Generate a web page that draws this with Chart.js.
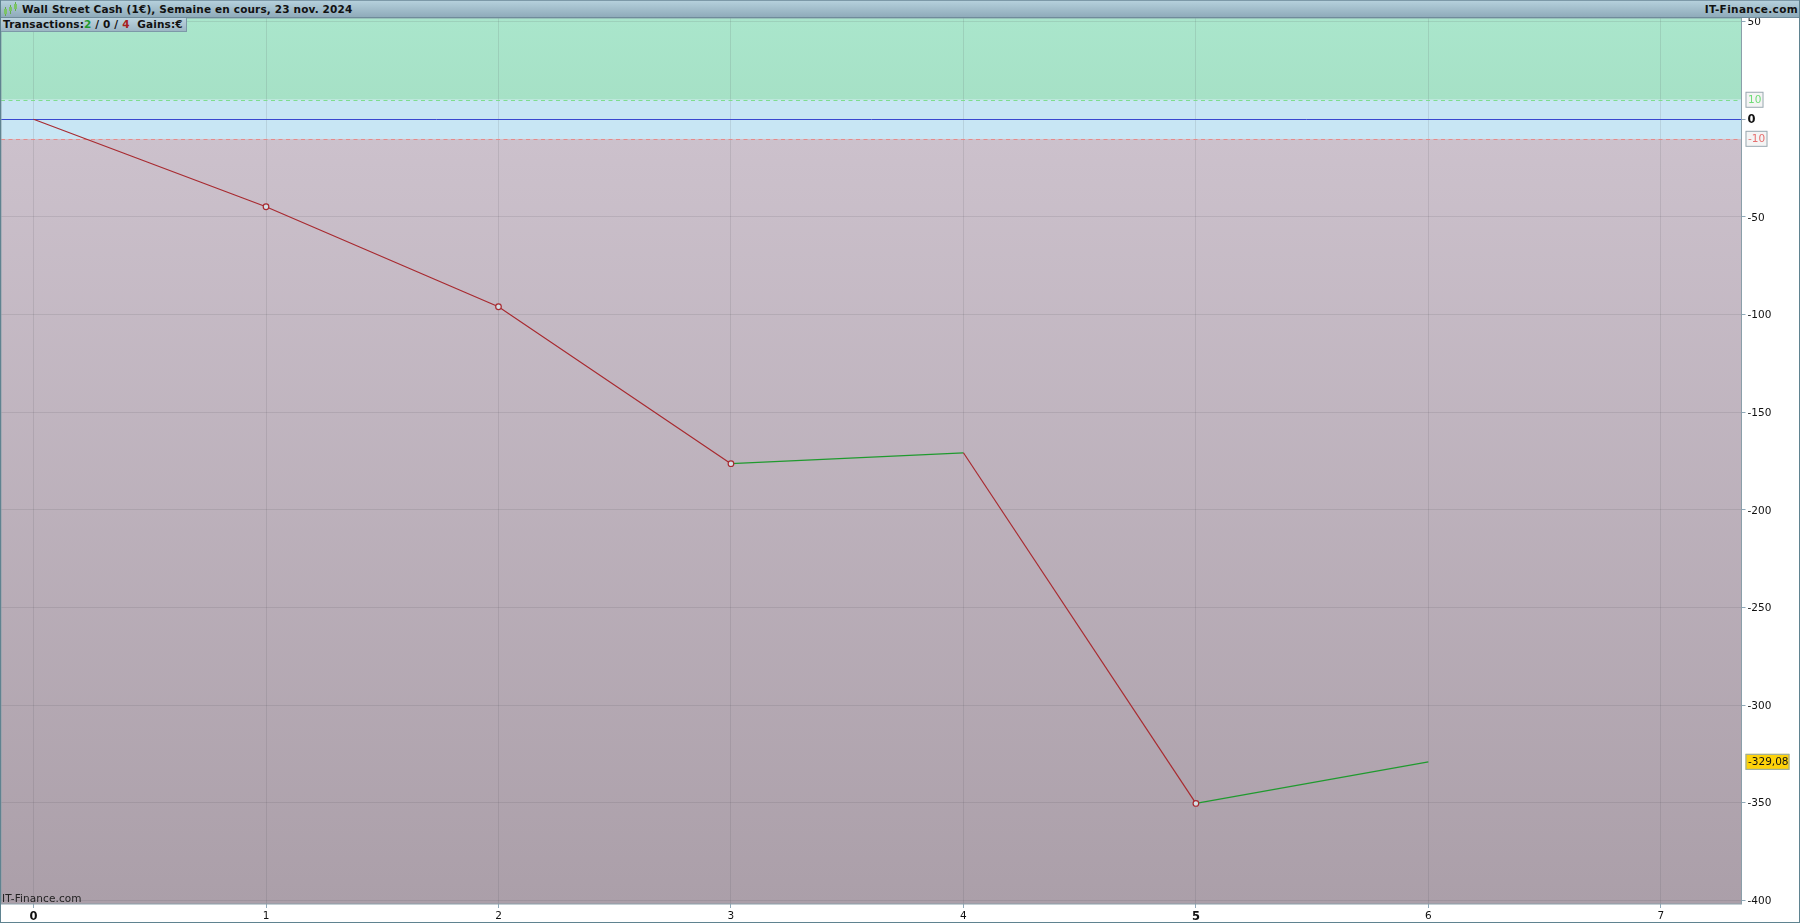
<!DOCTYPE html>
<html lang="fr">
<head>
<meta charset="utf-8">
<title>Wall Street Cash (1€)</title>
<script src="https://cdn.jsdelivr.net/npm/chart.js@4/dist/chart.umd.min.js"></script>
<style>
  html, body { margin: 0; background: #fff; overflow: hidden; }
  #page { position: relative; width: 1800px; height: 923px; font-family: "DejaVu Sans", sans-serif; }
  #graphique { position: absolute; left: 0; top: 0; }
  #cadre { position: absolute; inset: 0; border: 1px solid #5f8390; border-top: 0; pointer-events: none; }
  #entete {
    position: absolute; left: 0; top: 0; width: 1800px; height: 18px; box-sizing: border-box;
    background: linear-gradient(#b5d0dc, #8fabba); border-top: 1px solid #7d99a8; border-bottom: 1px solid #6f8b9a;
    font-size: 10.5px; font-weight: bold; color: #111; line-height: 15px; letter-spacing: .15px; white-space: nowrap;
  }
  #titre { position: absolute; left: 22px; top: 1px; }
  #site { position: absolute; right: 2px; top: 1px; letter-spacing: .35px; }
  #icone { position: absolute; left: 3px; top: 1px; }
  #resume {
    position: absolute; left: 0; top: 18px; height: 14px; width: 187px; box-sizing: border-box;
    background: linear-gradient(#bcd4df, #9db6c4); border: 1px solid #7d99a8; border-left: 0; border-top: 0;
    font-size: 10.5px; font-weight: bold; color: #111; line-height: 13px; padding-left: 3px; letter-spacing: .15px; white-space: nowrap;
  }
  #resume .g { color: #1f9a2e; } #resume .p { color: #a82020; }
  #credit { position: absolute; left: 2px; top: 892px; font-size: 10.5px; color: #222; letter-spacing: .1px; }
</style>
</head>
<body>
<div id="page">
  <canvas id="graphique" width="1800" height="923"></canvas>
  <div id="entete">
    <svg id="icone" width="16" height="15" viewBox="0 0 16 15" stroke="#62b04a" stroke-width="1">
      <path d="M2.5 5v9M7.5 3v9M12.5 0v9"/>
      <path d="M1 7h3v5H1zM6 5h3v4H6zM11 2h3v5h-3z" fill="#7cc466" stroke="none"/>
    </svg>
    <span id="titre">Wall Street Cash (1€), Semaine en cours, 23 nov. 2024</span>
    <span id="site">IT-Finance.com</span>
  </div>
  <div id="resume">Transactions:<span class="g">2</span> / 0 / <span class="p">4</span>&nbsp; Gains:€</div>
  <div id="credit">IT-Finance.com</div>
  <div id="cadre"></div>
</div>
<script>
// Données
const TRANSACTIONS = [0, 1, 2, 3, 4, 5, 6];
const GAINS = [0, -44.8, -96, -176.4, -170.8, -350.4, -329.08];
const TICKS_X = [0, 1, 2, 3, 4, 5, 6, 7];
const TICKS_Y = [50, 0, -50, -100, -150, -200, -250, -300, -350, -400];
const TICKS_X_GRAS = [0, 5];
const SEUIL_HAUT = 10;
const SEUIL_BAS = -10;
const DERNIER_GAIN = -329.08;
const DERNIER_GAIN_TEXTE = '-329,08';

const VERT = '#1f9a2e';
const ROUGE = '#a82a30';
const GRILLE = 'rgba(70,70,80,.13)';
const POLICE = '"DejaVu Sans", sans-serif';

// Bandes de fond : vert au-dessus du seuil, bleu autour de zéro, dégradé en dessous
const fondZones = {
  id: 'fondZones',
  beforeDraw(chart) {
    const { ctx, chartArea: a, scales: { y } } = chart;
    const yHaut = y.getPixelForValue(SEUIL_HAUT);
    const yBas = y.getPixelForValue(SEUIL_BAS);
    ctx.save();
    let g = ctx.createLinearGradient(0, a.top, 0, yHaut);
    g.addColorStop(0, '#aae6cc');
    g.addColorStop(1, '#a6e1c6');
    ctx.fillStyle = g;
    ctx.fillRect(a.left, a.top, a.width, yHaut - a.top);
    ctx.fillStyle = '#c8e6f4';
    ctx.fillRect(a.left, yHaut, a.width, yBas - yHaut);
    g = ctx.createLinearGradient(0, yBas, 0, a.bottom);
    g.addColorStop(0, '#ccc1cc');
    g.addColorStop(1, '#ab9fa9');
    ctx.fillStyle = g;
    ctx.fillRect(a.left, yBas, a.width, a.bottom - yBas);
    ctx.restore();
  },
  beforeDatasetsDraw(chart) {
    const { ctx, chartArea: a, scales: { y } } = chart;
    ctx.save();
    ctx.lineWidth = 1;
    ctx.setLineDash([4, 3.5]);
    [[SEUIL_HAUT, '#7fdc8f'], [SEUIL_BAS, '#e58a8a']].forEach(([v, c]) => {
      const py = Math.round(y.getPixelForValue(v)) + .5;
      ctx.strokeStyle = c;
      ctx.beginPath();
      ctx.moveTo(a.left, py);
      ctx.lineTo(a.right, py);
      ctx.stroke();
    });
    ctx.restore();
    ctx.save();
    ctx.strokeStyle = '#8a9fa9';
    ctx.lineWidth = 1;
    ctx.strokeRect(a.left, a.top, a.width, a.bottom - a.top);
    ctx.restore();
  }
};

function etiquette(ctx, texte, x, py, largeur, fond, bord, couleur) {
  ctx.fillStyle = fond;
  ctx.fillRect(x, py - 8, largeur, 16);
  ctx.strokeStyle = bord;
  ctx.lineWidth = 1;
  ctx.strokeRect(x + .5, py - 7.5, largeur - 1, 15);
  ctx.fillStyle = couleur;
  ctx.fillText(texte, x + 2.5, py + .5);
}

// Étiquettes à droite de l'axe : seuils et dernière valeur
const etiquettes = {
  id: 'etiquettes',
  afterDraw(chart) {
    const { ctx, chartArea: a, scales: { y } } = chart;
    const x = a.right + 4;
    ctx.save();
    ctx.font = '10.5px ' + POLICE;
    ctx.textBaseline = 'middle';
    etiquette(ctx, String(SEUIL_HAUT), x, y.getPixelForValue(SEUIL_HAUT), 18, '#f4f4f4', '#9aaab2', '#6fdc78');
    etiquette(ctx, String(SEUIL_BAS), x, y.getPixelForValue(SEUIL_BAS), 22, '#f4f4f4', '#9aaab2', '#e67070');
    etiquette(ctx, DERNIER_GAIN_TEXTE, x, y.getPixelForValue(DERNIER_GAIN), 44, '#fdd20a', '#8fa9b9', '#111');
    ctx.restore();
  }
};

new Chart(document.getElementById('graphique'), {
  type: 'line',
  data: {
    datasets: [{
      data: TRANSACTIONS.map((t, i) => ({ x: t, y: GAINS[i] })),
      borderWidth: 1.2,
      borderColor: ROUGE,
      tension: 0,
      segment: {
        borderColor: (c) => (c.p1.parsed.y > c.p0.parsed.y ? VERT : ROUGE)
      },
      // rond seulement sur les points atteints en baisse
      pointRadius: (c) => (c.dataIndex > 0 && GAINS[c.dataIndex] < GAINS[c.dataIndex - 1] ? 2.8 : 0),
      pointBackgroundColor: '#d4dfe6',
      pointBorderColor: ROUGE,
      pointBorderWidth: 1.2
    }]
  },
  options: {
    responsive: false,
    animation: false,
    devicePixelRatio: 1,
    layout: { padding: { left: 1, top: 18, right: 0, bottom: 0 } },
    plugins: { legend: { display: false }, tooltip: { enabled: false }, title: { display: false } },
    scales: {
      x: {
        type: 'linear',
        min: -0.14,
        max: 7.347,
        afterBuildTicks: (s) => { s.ticks = TICKS_X.map((value) => ({ value })); },
        afterFit: (s) => { s.height = 19; },
        border: { display: false },
        grid: { color: GRILLE, tickColor: '#8fa9b9', tickLength: 4 },
        ticks: {
          maxRotation: 0,
          padding: 2,
          color: '#111',
          callback: (v) => String(v),
          font: (c) => (TICKS_X_GRAS.includes(c.tick && c.tick.value)
            ? { family: POLICE, size: 11.5, weight: 'bold' }
            : { family: POLICE, size: 10.5 })
        }
      },
      y: {
        position: 'right',
        min: -401.9,
        max: 51.88,
        afterBuildTicks: (s) => { s.ticks = TICKS_Y.map((value) => ({ value })); },
        afterFit: (s) => { s.width = 58.5; },
        border: { display: false },
        grid: {
          color: (c) => (c.tick && c.tick.value === 0 ? '#3a48d0' : GRILLE),
          tickColor: '#8fa9b9',
          tickLength: 4
        },
        ticks: {
          padding: 2,
          labelOffset: 1,
          color: '#111',
          callback: (v) => String(v),
          font: (c) => (c.tick && c.tick.value === 0
            ? { family: POLICE, size: 11.5, weight: 'bold' }
            : { family: POLICE, size: 10.5 })
        }
      }
    }
  },
  plugins: [fondZones, etiquettes]
});
</script>
</body>
</html>
